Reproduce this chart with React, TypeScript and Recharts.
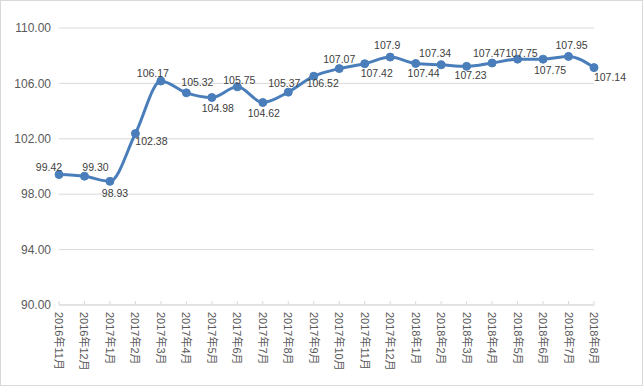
import { CartesianGrid, LabelList, Line, LineChart, XAxis, YAxis } from "recharts";

const months = [
  "2016年11月", "2016年12月", "2017年1月", "2017年2月", "2017年3月", "2017年4月",
  "2017年5月", "2017年6月", "2017年7月", "2017年8月", "2017年9月", "2017年10月",
  "2017年11月", "2017年12月", "2018年1月", "2018年2月", "2018年3月", "2018年4月",
  "2018年5月", "2018年6月", "2018年7月", "2018年8月",
];
const values = [
  99.42, 99.3, 98.93, 102.38, 106.17, 105.32, 104.98, 105.75, 104.62, 105.37, 106.52,
  107.07, 107.42, 107.9, 107.44, 107.34, 107.23, 107.47, 107.75, 107.75, 107.95, 107.14,
];
const labels = [
  "99.42", "99.30", "98.93", "102.38", "106.17", "105.32", "104.98", "105.75", "104.62",
  "105.37", "106.52", "107.07", "107.42", "107.9", "107.44", "107.34", "107.23", "107.47",
  "107.75", "107.75", "107.95", "107.14",
];
const yTicks = [90, 94, 98, 102, 106, 110];

// where each data label sits relative to its point (dx, dy)
const labelShift: [number, number][] = [
  [-10, -8], [11, -9], [5, 12], [16, 7], [-8, -8], [11, -11], [6, 10], [2, -7],
  [1, 10], [-4, -9], [9, 7], [0, -10], [12, 9], [-3, -12], [8, 10], [-6, -12],
  [4, 9], [-3, -10], [4, -6], [7, 11], [3, -11], [16, 9],
];

const data = months.map((m, i) => ({ month: m, value: values[i], label: labels[i] }));

const font = '"Liberation Sans", "Noto Sans CJK SC", sans-serif';

function MonthTick({ x, y, payload }: any) {
  return (
    <g>
      <line x1={x} x2={x} y1={y - 4} y2={y} stroke="#d9d9d9" />
      <text
        x={x}
        y={y + 7}
        transform={`rotate(90 ${x} ${y + 7})`}
        textAnchor="start"
        dominantBaseline="central"
        fontSize={11}
        fill="#595959"
        fontFamily={font}
      >
        {payload.value}
      </text>
    </g>
  );
}

function PointLabel({ x, y, index }: any) {
  const [dx, dy] = labelShift[index] ?? [0, -10];
  return (
    <text
      x={x + dx}
      y={y + dy}
      textAnchor="middle"
      dominantBaseline="central"
      fontSize={10.5}
      fill="#404040"
      fontFamily={font}
    >
      {labels[index]}
    </text>
  );
}

export default function App() {
  return (
    <div
      style={{
        position: "absolute",
        left: 0,
        top: 0,
        width: 641,
        height: 384,
        border: "1px solid #d9d9d9",
        background: "#fff",
      }}
    >
      <LineChart
        width={641}
        height={384}
        data={data}
        margin={{ top: 27, right: 48, left: -1, bottom: 0 }}
      >
        <CartesianGrid vertical={false} stroke="#d9d9d9" />
        <XAxis
          dataKey="month"
          interval={0}
          height={80}
          tick={<MonthTick />}
          tickLine={false}
          tickSize={0}
          tickMargin={0}
          axisLine={{ stroke: "#d9d9d9" }}
        />
        <YAxis
          width={59}
          domain={[90, 110]}
          ticks={yTicks}
          tickFormatter={(v) => v.toFixed(2)}
          axisLine={false}
          tickLine={false}
          tick={{ fontSize: 12, fill: "#595959", fontFamily: font }}
        />
        <Line
          type="monotone"
          dataKey="value"
          stroke="#4a7ebb"
          strokeWidth={3}
          dot={{ r: 4, fill: "#4a7ebb", stroke: "#4a7ebb", strokeWidth: 1 }}
          isAnimationActive={false}
        >
          <LabelList dataKey="label" content={<PointLabel />} />
        </Line>
      </LineChart>
    </div>
  );
}
